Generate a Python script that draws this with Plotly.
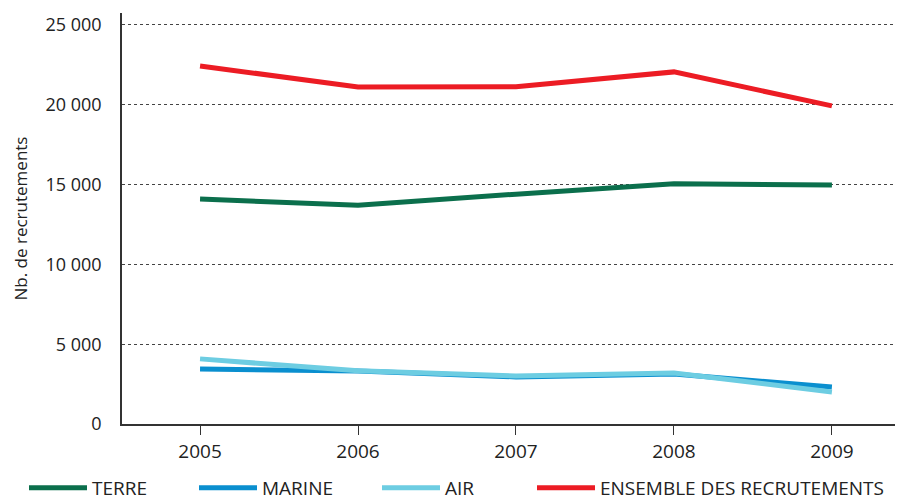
import plotly.graph_objects as go

# années et nombre de recrutements par armée
years = [2005, 2006, 2007, 2008, 2009]
terre = [14100, 13700, 14400, 15050, 14980]
marine = [3450, 3320, 2950, 3130, 2320]
air = [4080, 3330, 3010, 3200, 2010]
ensemble = [22430, 21120, 21130, 22060, 19930]

SERIES = [
    ("TERRE", terre, "#0b6f4c"),
    ("MARINE", marine, "#0a8fcf"),
    ("AIR", air, "#6dcde2"),
    ("ENSEMBLE DES RECRUTEMENTS", ensemble, "#ec1c24"),
]

# le navigateur ajoute 8 px de marge au <body> : on compense
W, H = 895, 506
LEGEND_X = [29, 199, 382, 537]      # début des échantillons (px de page)
LEGEND_W = [90, 105, 65, 300]       # largeur réservée au texte de chaque entrée
LEGEND_Y = 488

fig = go.Figure()
legends = {}
for i, (name, values, color) in enumerate(SERIES):
    key = "legend" if i == 0 else f"legend{i + 1}"
    fig.add_trace(go.Scatter(x=years, y=values, mode="lines", name=name,
                             line=dict(color=color, width=5), legend=key))
    legends[key] = dict(orientation="h", xref="container", yref="container",
                        x=(LEGEND_X[i] - 8 - 5) / W, y=(H - (LEGEND_Y - 8)) / H,
                        xanchor="left", yanchor="middle", itemwidth=58,
                        entrywidth=LEGEND_W[i], bgcolor="rgba(0,0,0,0)",
                        font=dict(size=19, color="#222222"))

fig.update_layout(
    width=W, height=H,
    margin=dict(l=114, r=0, t=5, b=H - (424 - 8)),
    paper_bgcolor="white", plot_bgcolor="white",
    font=dict(family="Open Sans", size=19, color="#222222"),
    separators=", ",
    showlegend=True,
    xaxis=dict(range=[2004.506, 2009.45], tickvals=years, showgrid=False,
               showline=True, linecolor="#333333", linewidth=1.5,
               ticks="outside", ticklen=9, tickcolor="#333333", zeroline=False),
    yaxis=dict(range=[0, 25750], tickvals=[0, 5000, 10000, 15000, 20000, 25000],
               tickformat=",d", tickfont=dict(size=18),
               showgrid=True, gridcolor="#444444", griddash="dot",
               gridwidth=1, showline=True, linecolor="#333333", linewidth=1.5,
               zeroline=False, ticks="", ticklabelstandoff=15,
               title=dict(text="Nb. de recrutements", font=dict(size=17), standoff=14)),
    **legends,
)

fig.write_html("out.html")
